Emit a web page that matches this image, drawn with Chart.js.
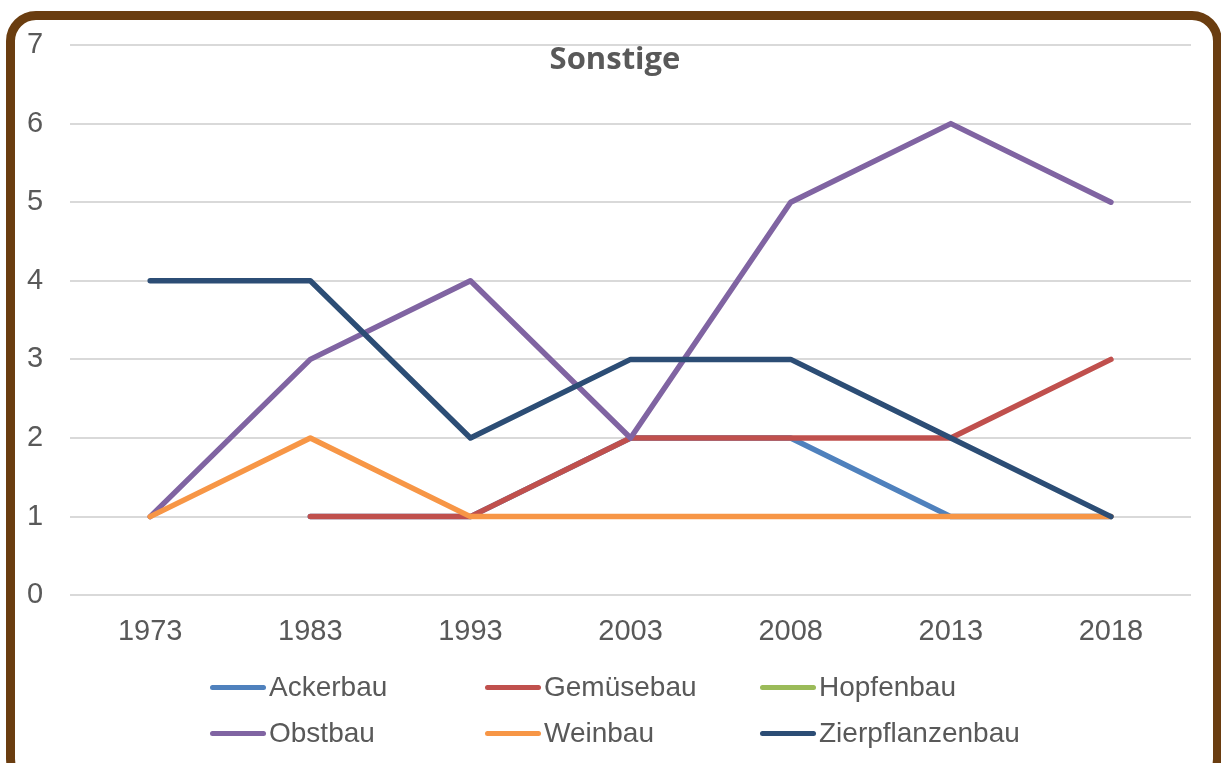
<!DOCTYPE html>
<html>
<head>
<meta charset="utf-8">
<script src="https://cdn.jsdelivr.net/npm/chart.js@4/dist/chart.umd.min.js"></script>
<style>
  html, body { margin: 0; padding: 0; background: #fff; }
  #wrap { position: relative; width: 1221px; height: 763px; overflow: hidden; }
  #frame {
    position: absolute; left: 6px; top: 11px; width: 1198px; height: 760px;
    border: 9px solid #6A3D10; border-radius: 30px; pointer-events: none;
  }
  .leg { position: absolute; display: flex; align-items: center; height: 36px;
    font: 28px "Liberation Sans", Arial, sans-serif; color: #595959; white-space: nowrap; }
  .leg i { display: inline-block; width: 56px; height: 5px; border-radius: 3px; margin-right: 3px; }
</style>
</head>
<body>
<div id="wrap">
  <canvas id="chart" width="1221" height="763"></canvas>
  <div id="legend"></div>
  <div id="frame"></div>
</div>
<script>
// Werte
const years = ['1973', '1983', '1993', '2003', '2008', '2013', '2018'];
const seriesNames = ['Ackerbau', 'Gemüsebau', 'Hopfenbau', 'Obstbau', 'Weinbau', 'Zierpflanzenbau'];
const ackerbau = [null, 1, 1, 2, 2, 1, 1];
const gemuesebau = [null, 1, 1, 2, 2, 2, 3];
const hopfenbau = [null, null, null, null, null, null, null];
const obstbau = [1, 3, 4, 2, 5, 6, 5];
const weinbau = [1, 2, 1, 1, 1, 1, 1];
const zierpflanzenbau = [4, 4, 2, 3, 3, 2, 1];
const colors = ['#4F81BD', '#C0504D', '#9BBB59', '#8064A2', '#F79646', '#2C4D75'];
const yTicks = [0, 1, 2, 3, 4, 5, 6, 7];

const allValues = [ackerbau, gemuesebau, hopfenbau, obstbau, weinbau, zierpflanzenbau];

const datasets = seriesNames.map((name, i) => ({
  label: name,
  data: allValues[i],
  borderColor: colors[i],
  backgroundColor: colors[i],
  borderWidth: 5.5,
  borderCapStyle: 'round',
  borderJoinStyle: 'round',
  pointRadius: 0,
  tension: 0,
  spanGaps: false,
  order: seriesNames.length - i // letzte Serie oben
}));

// Titel liegt im Diagrammbereich
const titlePlugin = {
  id: 'innerTitle',
  afterDraw(chart) {
    const ctx = chart.ctx;
    ctx.save();
    ctx.font = 'bold 31px "Open Sans", sans-serif';
    ctx.fillStyle = '#595959';
    ctx.textAlign = 'center';
    ctx.textBaseline = 'middle';
    ctx.fillText('Sonstige', 615, 60);
    ctx.restore();
  }
};

new Chart(document.getElementById('chart'), {
  type: 'line',
  data: { labels: years, datasets: datasets },
  options: {
    responsive: false,
    animation: false,
    layout: { padding: { left: 0, right: 30, top: 45, bottom: 95 } },
    plugins: { legend: { display: false }, tooltip: { enabled: false } },
    scales: {
      x: {
        offset: true,
        grid: { display: false, drawTicks: false },
        border: { display: false },
        ticks: { color: '#595959', padding: 19, font: { family: '"Liberation Sans", Arial', size: 29 } }
      },
      y: {
        min: 0,
        max: 7,
        afterBuildTicks: axis => { axis.ticks = yTicks.map(v => ({ value: v })); },
        grid: { color: '#D9D9D9', lineWidth: 2, drawTicks: false },
        border: { display: false },
        ticks: { color: '#595959', padding: 27, font: { family: '"Liberation Sans", Arial', size: 29 } }
      }
    }
  },
  plugins: [titlePlugin]
});

// Legende als Raster wie im Original
const legend = document.getElementById('legend');
const colX = [210, 485, 760];
const rowY = [669, 715];
seriesNames.forEach((name, i) => {
  const item = document.createElement('div');
  item.className = 'leg';
  item.style.left = colX[i % 3] + 'px';
  item.style.top = rowY[Math.floor(i / 3)] + 'px';
  const mark = document.createElement('i');
  mark.style.background = colors[i];
  item.appendChild(mark);
  item.appendChild(document.createTextNode(name));
  legend.appendChild(item);
});
</script>
</body>
</html>
